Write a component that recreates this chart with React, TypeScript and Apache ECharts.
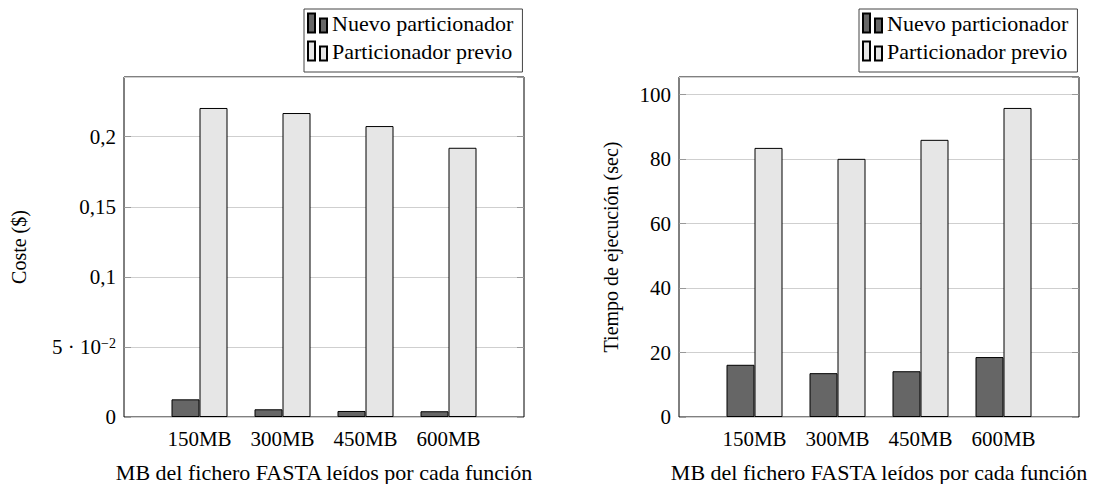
import React, { useEffect, useRef } from "react";
import * as echarts from "echarts";

// Categories and measured values
const categories = ["150MB", "300MB", "450MB", "600MB"];
const seriesNames = ["Nuevo particionador", "Particionador previo"];

const costNuevo = [0.0126, 0.0055, 0.0043, 0.0041];
const costPrevio = [0.2205, 0.2169, 0.2076, 0.1921];

const tiempoNuevo = [16.2, 13.6, 14.2, 18.6];
const tiempoPrevio = [83.5, 80.1, 86.0, 95.9];

// Tick values and their printed labels
const costTicks = [0, 0.05, 0.1, 0.15, 0.2];
const costTickLabels = ["0", "{m|5 · 10}{e|−2}", "0,1", "0,15", "0,2"];
const tiempoTicks = [0, 20, 40, 60, 80, 100];
const tiempoTickLabels = ["0", "20", "40", "60", "80", "100"];

const costMax = 0.2426;
const tiempoMax = 105.5;

const xTitle = "MB del fichero FASTA leídos por cada función";
const costTitle = "Coste ($)";
const tiempoTitle = "Tiempo de ejecución (sec)";

const FONT = "Liberation Serif";
const DARK = "#666666";
const LIGHT = "#e6e6e6";

function tickFormatter(ticks: number[], labels: string[]) {
  return (v: number) => {
    const i = ticks.findIndex((t) => Math.abs(t - v) < 1e-9);
    return i >= 0 ? labels[i] : "";
  };
}

type Panel = {
  frameLeft: number;
  nuevo: number[];
  previo: number[];
  max: number;
  interval: number;
  ticks: number[];
  labels: string[];
  title: string;
  titleGap: number;
};

const TOP = 77;
const HEIGHT = 340;
const FRAME_W = 400;
const BAND = 83;

function buildOption(panels: Panel[]) {
  const grid: any[] = [];
  const xAxis: any[] = [];
  const yAxis: any[] = [];
  const series: any[] = [];
  const legend: any[] = [];

  panels.forEach((p) => {
    // outer frame carrying the grid lines and y ticks
    const frameGrid = grid.length;
    grid.push({
      left: p.frameLeft,
      top: TOP,
      width: FRAME_W,
      height: HEIGHT,
      show: true,
      borderColor: "#000",
      borderWidth: 1,
      backgroundColor: "transparent",
      containLabel: false,
      outerBoundsMode: "none",
    });
    // inner band holding the bar groups, centred in the frame
    const barGrid = grid.length;
    const barsW = BAND * categories.length;
    grid.push({
      left: p.frameLeft + (FRAME_W - barsW) / 2,
      top: TOP,
      width: barsW,
      height: HEIGHT,
      containLabel: false,
      outerBoundsMode: "none",
    });

    xAxis.push({ type: "value", gridIndex: frameGrid, min: 0, max: 1, show: false });
    const xBars = xAxis.length;
    xAxis.push({
      type: "category",
      gridIndex: barGrid,
      data: categories,
      boundaryGap: true,
      axisLine: { show: false },
      axisTick: { show: false },
      axisLabel: { color: "#000", fontFamily: FONT, fontSize: 21, margin: 11, interval: 0 },
      name: xTitle,
      nameLocation: "middle",
      nameGap: 44,
      nameTextStyle: { color: "#000", fontFamily: FONT, fontSize: 22 },
    });

    const common = {
      type: "value",
      gridIndex: frameGrid,
      min: 0,
      max: p.max,
      interval: p.interval,
    };
    yAxis.push({
      ...common,
      position: "left",
      axisLine: { show: false },
      axisTick: { show: true, inside: true, length: 7, lineStyle: { color: "#999" } },
      splitLine: { show: true, lineStyle: { color: "#cfcfcf", width: 1 } },
      axisLabel: {
        color: "#000",
        fontFamily: FONT,
        fontSize: 21,
        margin: 8,
        showMaxLabel: false,
        formatter: tickFormatter(p.ticks, p.labels),
        rich: {
          m: { fontFamily: FONT, fontSize: 21, color: "#000" },
          e: { fontFamily: FONT, fontSize: 14, color: "#000", verticalAlign: "top", lineHeight: 14 },
        },
      },
      name: p.title,
      nameLocation: "middle",
      nameGap: p.titleGap,
      nameRotate: 90,
      nameTextStyle: { color: "#000", fontFamily: FONT, fontSize: 20 },
    });
    yAxis.push({
      ...common,
      position: "right",
      axisLine: { show: false },
      axisTick: { show: true, inside: true, length: 7, lineStyle: { color: "#999" } },
      splitLine: { show: false },
      axisLabel: { show: false },
    });
    const yBars = yAxis.length;
    yAxis.push({ type: "value", gridIndex: barGrid, min: 0, max: p.max, show: false });

    series.push({
      type: "bar",
      name: seriesNames[0],
      xAxisIndex: xBars,
      yAxisIndex: yBars,
      data: p.nuevo,
      barWidth: 28,
      barGap: "0%",
      itemStyle: { color: DARK, borderColor: "#000", borderWidth: 1 },
    });
    series.push({
      type: "bar",
      name: seriesNames[1],
      xAxisIndex: xBars,
      yAxisIndex: yBars,
      data: p.previo,
      barWidth: 28,
      barGap: "0%",
      itemStyle: { color: LIGHT, borderColor: "#000", borderWidth: 1 },
    });

    legend.push({
      left: p.frameLeft + FRAME_W - 220,
      top: 9,
      orient: "vertical",
      data: seriesNames,
      selectedMode: false,
      icon: "path://M0,0H7V19H0ZM12,5H19V19H12Z",
      itemWidth: 19,
      itemHeight: 19,
      itemGap: 6,
      borderColor: "#444",
      borderWidth: 1,
      padding: [3, 9, 10, 3],
      textStyle: { color: "#000", fontFamily: FONT, fontSize: 22 },
    });
  });

  return {
    animation: false,
    backgroundColor: "#ffffff",
    grid,
    xAxis,
    yAxis,
    series,
    legend,
  };
}

export default function App() {
  const ref = useRef<HTMLDivElement>(null);

  useEffect(() => {
    if (!ref.current) return;
    const chart = echarts.init(ref.current, undefined, { renderer: "svg" });
    chart.setOption(
      buildOption([
        {
          frameLeft: 124,
          nuevo: costNuevo,
          previo: costPrevio,
          max: costMax,
          interval: 0.05,
          ticks: costTicks,
          labels: costTickLabels,
          title: costTitle,
          titleGap: 95,
        },
        {
          frameLeft: 679,
          nuevo: tiempoNuevo,
          previo: tiempoPrevio,
          max: tiempoMax,
          interval: 20,
          ticks: tiempoTicks,
          labels: tiempoTickLabels,
          title: tiempoTitle,
          titleGap: 58,
        },
      ])
    );
    return () => chart.dispose();
  }, []);

  return (
    <div
      ref={ref}
      style={{ position: "fixed", left: 0, top: 0, width: 1096, height: 484, background: "#fff" }}
    />
  );
}
